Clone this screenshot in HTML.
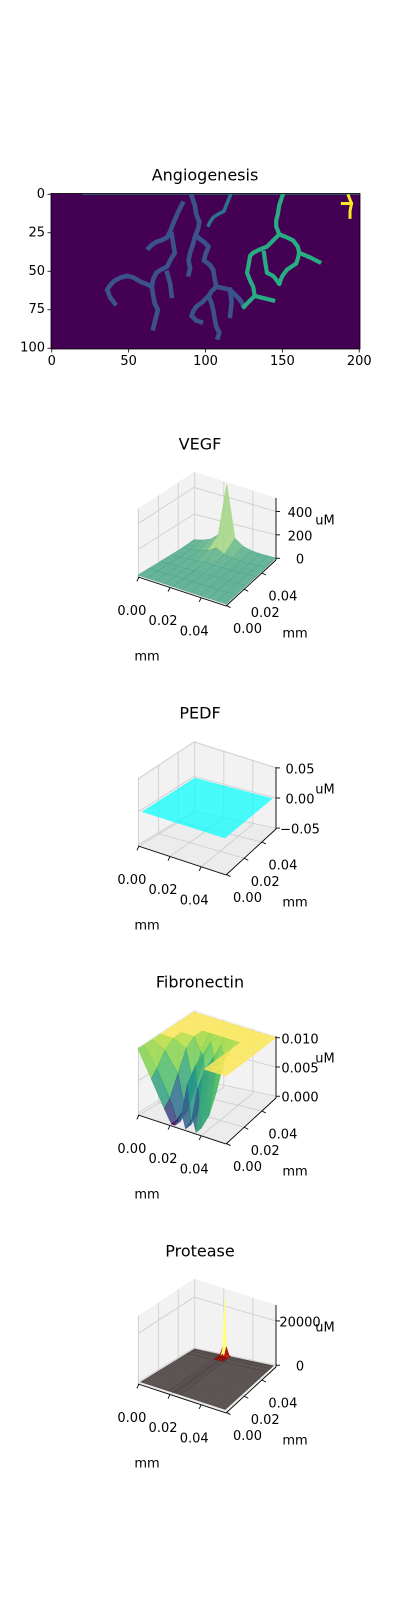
<!DOCTYPE html>
<html><head><meta charset="utf-8">
<style>
html,body{margin:0;padding:0;background:#fff;}
svg{display:block;font-family:"DejaVu Sans","Liberation Sans",sans-serif;}
</style></head>
<body>
<svg id="fig" width="400" height="1600" viewBox="0 0 400 1600" xmlns="http://www.w3.org/2000/svg">
<rect width="400" height="1600" fill="#fff"/>
</svg>
<script>
// ---------- Angiogenesis data (image coords: x col, y row) ----------
const angioXTicks = [0, 50, 100, 150, 200];
const angioYTicks = [0, 25, 50, 75, 100];
const vesselsBlue = [
 [[91,1],[93,7],[94,13],[96,18],[95,23],[93,28],[92,32],[90,38],[89,43],[90,48],[89,52]],
 [[95,28],[99,31],[102,34],[100,39],[99,43],[103,46],[105,49],[106,55],[107,60],[104,63],[102,66],[104,71],[105,75],[106,81],[107,86],[109,90],[108,93]],
 [[102,66],[98,70],[94,73],[92,76],[91,79],[94,82],[97,83]],
 [[107,60],[112,61],[116,62],[119,65],[122,68],[124,71],[125,73]],
 [[116,62],[117,70],[116,79]],
 [[85,6],[82,12],[79,19],[77,24],[75,28],[71,30],[68,31],[65,33],[63,35]],
 [[78,26],[79,32],[80,38],[77,43],[75,47],[71,49],[68,51],[66,55],[65,60],[66,66],[67,71],[69,75],[68,79],[67,83],[66,87]],
 [[65,60],[61,58],[58,57],[53,54],[49,53],[45,54],[41,56],[38,59],[36,62],[38,67],[41,71]],
 [[75,51],[77,58],[78,66]]
];
const vesselsTeal = [ [[116,1],[114,6],[112,11],[108,13],[105,15],[103,18],[102,20]] ];
const vesselsGreen = [
 [[150,1],[148,7],[147,13],[146,17],[146,21],[148,26],[144,30],[140,34],[135,36],[131,38],[129,40],[128,46],[127,51],[129,56],[131,60],[132,66],[128,70],[125,73]],
 [[148,26],[153,28],[157,30],[160,34],[161,38],[160,42],[159,45],[156,47],[153,49],[150,53],[148,58]],
 [[161,38],[168,41],[174,44]],
 [[138,38],[139,45],[140,51],[144,53],[148,58]],
 [[132,66],[136,67],[140,68],[144,69]]
];
const vesselsYellow = [ [[193,1],[195,6],[194,11],[194,15]], [[195,6],[189,6]] ];

// ---------- 3D panel data ----------
const vegfZTicks = [0, 200, 400];
const vegfXs = [0,0.1,0.2,0.3,0.4,0.5,0.6,0.7,0.8,0.9,1];
const vegfYs = [0,0.2,0.4,0.6,0.8,1];
const vegfZ = [
 [0,0,0,0,0,0,0,0,0,0,0],
 [0,0,0,0,0,0,0,0,0,0,0],
 [0,0,0,1,2,1,0,0,0,0,0],
 [0,1,2,4,10,4,2,1,0,0,0],
 [2,5,10,25,60,25,10,5,2,1,0],
 [10,20,40,90,500,90,40,20,10,5,2]
];
const pedfZTicks = [-0.05, 0.00, 0.05];
const pedfXs = [0.03,0.97];
const pedfYs = [0.03,0.97];
const pedfZ = [[0,0],[0,0]];
const fibZTicks = [0.000, 0.005, 0.010];
const fibXs = [0,0.15,0.3,0.38,0.42,0.5,0.54,0.62,0.66,0.75,0.85,1];
const fibYs = [0,0.1,0.25,0.4,0.55,0.7,0.85,1];
const fibZ = [
 [0.010,0.006,0.002,0.000,0.000,0.002,0.000,0.002,0.000,0.010,0.010,0.010],
 [0.010,0.007,0.003,0.000,0.000,0.006,0.000,0.006,0.000,0.010,0.010,0.010],
 [0.010,0.009,0.006,0.001,0.001,0.008,0.001,0.008,0.001,0.010,0.010,0.010],
 [0.010,0.010,0.009,0.004,0.004,0.009,0.003,0.009,0.004,0.010,0.010,0.010],
 [0.010,0.010,0.010,0.008,0.007,0.010,0.007,0.010,0.008,0.010,0.010,0.010],
 [0.010,0.010,0.010,0.010,0.010,0.010,0.010,0.010,0.010,0.010,0.010,0.010],
 [0.010,0.010,0.010,0.010,0.010,0.010,0.010,0.010,0.010,0.010,0.010,0.010],
 [0.010,0.010,0.010,0.010,0.010,0.010,0.010,0.010,0.010,0.010,0.010,0.010]
];
const protZTicks = [0, 20000];
const protXs = [0.02,0.34,0.38,0.4,0.42,0.46,0.98];
const protYs = [0.02,0.85,0.92,0.96,0.98];
const protZ = [
 [0,0,0,0,0,0,0],
 [0,0,0,0,0,0,0],
 [0,0,600,1500,600,0,0],
 [0,0,4000,24000,4000,0,0],
 [0,0,800,3000,800,0,0]
];
const tickMM = [0.00, 0.02, 0.04];

const NS = "http://www.w3.org/2000/svg";
const svg = document.getElementById('fig');
function mk(tag, attrs, parent){
  const e = document.createElementNS(NS, tag);
  for (const k in attrs) e.setAttribute(k, attrs[k]);
  (parent||svg).appendChild(e);
  return e;
}
function txt(s, x, y, size, anchor, parent){
  const t = mk('text', {x:x, y:y, 'font-size':size, 'text-anchor':anchor||'middle', 'dominant-baseline':'middle', fill:'#000'}, parent);
  t.textContent = s;
  return t;
}

// ---------- Angiogenesis ----------
(function(){
  const g = mk('g', {});
  
  
  const X0=51, Y0=193.5, SX=309/201, SY=155.5/101;
  const ax = v => X0 + (v+0.5)*SX;
  const ay = v => Y0 + (v+0.5)*SY;
  const title = txt('Angiogenesis', 205, 176, 16, 'middle', g);
  
  
  const bg = mk('rect', {x:X0, y:Y0, width:309, height:155.5, fill:'#440154'}, g);
  
  
  const topLine = mk('line', {x1:ax(20), y1:Y0+0.6, x2:X0+309, y2:Y0+0.6, stroke:'#2a9a8a', 'stroke-width':0.8}, g);
  
  
  function drawSet(set, color, name, w){
    set.forEach(pl => {
      const p = mk('polyline', {points: pl.map(q => ax(q[0])+','+ay(q[1])).join(' '), fill:'none', stroke:color, 'stroke-width':w, 'stroke-linejoin':'miter', 'stroke-linecap':'square'}, g);
      
      
    });
  }
  drawSet(vesselsBlue, '#3b528b', 'vessel-blue', 4.6);
  drawSet(vesselsTeal, '#2c728e', 'vessel-teal', 3.6);
  drawSet(vesselsGreen, '#27ad81', 'vessel-green', 4.2);
  drawSet(vesselsYellow, '#fde725', 'vessel-yellow', 3);
  const fr = mk('rect', {x:X0, y:Y0, width:309, height:155.5, fill:'none', stroke:'#000', 'stroke-width':0.8}, g);
  
  
  angioXTicks.forEach(v => {
    const x = ax(v);
    mk('line', {x1:x, y1:Y0+155.5, x2:x, y2:Y0+159, stroke:'#000', 'stroke-width':0.8}, g);
    const t = txt(String(v), x, Y0+168, 13, 'middle', g);
    
    
  });
  angioYTicks.forEach(v => {
    const y = ay(v);
    mk('line', {x1:X0, y1:y, x2:X0-3.5, y2:y, stroke:'#000', 'stroke-width':0.8}, g);
    const t = txt(String(v), X0-6, y, 13, 'end', g);
    
    
  });
})();

// ---------- 3D panels ----------
const Lb=[138,577], Fb=[226,606], Rb=[276,560], Bb=[194,543];
const hL=68, hF=70, hR=62, hB=71;
function proj(x, y, zf, off){
  const a=(1-x)*(1-y), b=x*(1-y), c=x*y, d=(1-x)*y;
  const px = Lb[0]*a + Fb[0]*b + Rb[0]*c + Bb[0]*d;
  const py = Lb[1]*a + Fb[1]*b + Rb[1]*c + Bb[1]*d;
  const h = hL*a + hF*b + hR*c + hB*d;
  return [px, py - zf*h + off];
}
const pt = p => p[0].toFixed(2)+','+p[1].toFixed(2);
const mmf = t => 0.01 + t/0.0565;

function lerpC(c1, c2, t){
  return 'rgb('+[0,1,2].map(i => Math.round(c1[i]+(c2[i]-c1[i])*t)).join(',')+')';
}
function cmap(stops, t){
  t = Math.max(0, Math.min(1, t));
  for (let i=0;i<stops.length-1;i++){
    if (t <= stops[i+1][0]){
      const u = (t-stops[i][0])/(stops[i+1][0]-stops[i][0]);
      return lerpC(stops[i][1], stops[i+1][1], u);
    }
  }
  return lerpC(stops[stops.length-1][1], stops[stops.length-1][1], 0);
}

function panel(cfg){
  const off = cfg.off;
  const g = mk('g', {});
  
  
  const zf = v => (v - cfg.zmin)/cfg.zr;
  const title = txt(cfg.title, 200, 445+off, 16, 'middle', g);
  
  
  const paneL = mk('polygon', {points:[proj(0,0,0,off),proj(0,1,0,off),proj(0,1,1,off),proj(0,0,1,off)].map(pt).join(' '), fill:'#f2f2f2', stroke:'#f2f2f2','stroke-width':0.5}, g);
  
  
  const paneR = mk('polygon', {points:[proj(0,1,0,off),proj(1,1,0,off),proj(1,1,1,off),proj(0,1,1,off)].map(pt).join(' '), fill:'#f2f2f2', stroke:'#f2f2f2','stroke-width':0.5}, g);
  
  
  const floor = mk('polygon', {points:[proj(0,0,0,off),proj(1,0,0,off),proj(1,1,0,off),proj(0,1,0,off)].map(pt).join(' '), fill:'#ececec', stroke:'#ececec','stroke-width':0.5}, g);
  
  
  const gs = {stroke:'#cbcbcb', 'stroke-width':0.8};
  function gl(p1, p2){ const l = mk('line', Object.assign({x1:p1[0],y1:p1[1],x2:p2[0],y2:p2[1]}, gs), g);   }
  tickMM.forEach(t => {
    const f = mmf(t);
    gl(proj(f,0,0,off), proj(f,1,0,off));
    gl(proj(0,f,0,off), proj(1,f,0,off));
    gl(proj(0,f,0,off), proj(0,f,1,off));
    gl(proj(f,1,0,off), proj(f,1,1,off));
  });
  cfg.zticks.forEach(v => {
    const z = zf(v);
    gl(proj(0,0,z,off), proj(0,1,z,off));
    gl(proj(0,1,z,off), proj(1,1,z,off));
  });
  const quads = [];
  for (let j=0;j<cfg.ys.length-1;j++) for (let i=0;i<cfg.xs.length-1;i++){
    const x0=cfg.xs[i], x1=cfg.xs[i+1], y0=cfg.ys[j], y1=cfg.ys[j+1];
    const z00=cfg.Z[j][i], z10=cfg.Z[j][i+1], z11=cfg.Z[j+1][i+1], z01=cfg.Z[j+1][i];
    quads.push({k:(x0+x1)/2-(y0+y1)/2, x0,x1,y0,y1,z00,z10,z11,z01});
  }
  quads.sort((a,b)=>a.k-b.k);
  quads.forEach(q => {
    const avg = (q.z00+q.z10+q.z11+q.z01)/4;
    const mx = Math.max(q.z00,q.z10,q.z11,q.z01);
    const col = cfg.color((cfg.useMax?mx:avg));
    const p = mk('polygon', {points:[proj(q.x0,q.y0,zf(q.z00),off),proj(q.x1,q.y0,zf(q.z10),off),proj(q.x1,q.y1,zf(q.z11),off),proj(q.x0,q.y1,zf(q.z01),off)].map(pt).join(' '), fill:col, stroke:col, 'stroke-width':0.6, 'fill-opacity':cfg.alpha, 'stroke-opacity':cfg.alpha}, g);
    
    
  });
  const as = {stroke:'#000', 'stroke-width':0.9};
  function al(p1,p2,name){ const l = mk('line', Object.assign({x1:p1[0],y1:p1[1],x2:p2[0],y2:p2[1]}, as), g);   }
  al(proj(0,0,0,off), proj(1,0,0,off), 'x-axis-line');
  al(proj(1,0,0,off), proj(1,1,0,off), 'y-axis-line');
  al(proj(1,1,0,off), proj(1,1,1,off), 'z-axis-line');
  tickMM.forEach(t => {
    const f = mmf(t);
    const a = proj(f,0,0,off); al(a, [a[0]-2, a[1]+4], 'x-tick');
    const la = txt(t.toFixed(2), a[0]-7, a[1]+34, 13, 'middle', g);
     
    const b = proj(1,f,0,off); al(b, [b[0]+4, b[1]+2], 'y-tick');
    const lb = txt(t.toFixed(2), b[0]+21, b[1]+24, 13, 'middle', g);
     
  });
  cfg.zticks.forEach(v => {
    const c = proj(1,1,zf(v),off); al(c, [c[0]+4, c[1]], 'z-tick');
    const s = cfg.fmt(v);
    const lc = txt(s, 300, c[1]+2, 13, 'middle', g);
     
  });
  const zl = txt('uM', 325, 521+off, 13, 'middle', g);
   
  const xl = txt('mm', 147, 657+off, 13, 'middle', g);
   
  const yl = txt('mm', 295, 634+off, 13, 'middle', g);
   
}

const vir = [[0,[68,1,84]],[0.25,[59,82,139]],[0.5,[33,145,140]],[0.75,[94,201,98]],[1,[253,231,37]]];
panel({name:'vegf', title:'VEGF', off:0, zmin:-15, zr:530, zticks:vegfZTicks, xs:vegfXs, ys:vegfYs, Z:vegfZ, alpha:0.85,
  color: v => cmap([[0,[80,170,140]],[0.15,[120,195,130]],[0.5,[200,230,130]],[1,[245,248,165]]], v/500),
  fmt: v => String(v)});
panel({name:'pedf', title:'PEDF', off:269, zmin:-0.0515, zr:0.103, zticks:pedfZTicks, xs:pedfXs, ys:pedfYs, Z:pedfZ, alpha:0.7,
  color: v => '#00ffff', fmt: v => (v<0?'\u22120.05':v.toFixed(2))});
panel({name:'fibronectin', title:'Fibronectin', off:538, zmin:-0.0003, zr:0.0106, zticks:fibZTicks, xs:fibXs, ys:fibYs, Z:fibZ, alpha:0.85,
  color: v => cmap([[0,[68,1,84]],[0.15,[59,82,139]],[0.35,[33,145,140]],[0.7,[94,201,98]],[0.97,[170,220,60]],[1,[250,232,90]]], v/0.010), fmt: v => v.toFixed(3)});
panel({name:'protease', title:'Protease', off:807, zmin:-800, zr:28000, zticks:protZTicks, xs:protXs, ys:protYs, Z:protZ, alpha:0.9, useMax:true,
  color: v => v<=0 ? '#4e4444' : cmap([[0,[120,0,0]],[0.3,[230,20,0]],[0.7,[255,160,0]],[1,[255,255,120]]], v/24000),
  fmt: v => String(v)});
</script>
</body></html>
